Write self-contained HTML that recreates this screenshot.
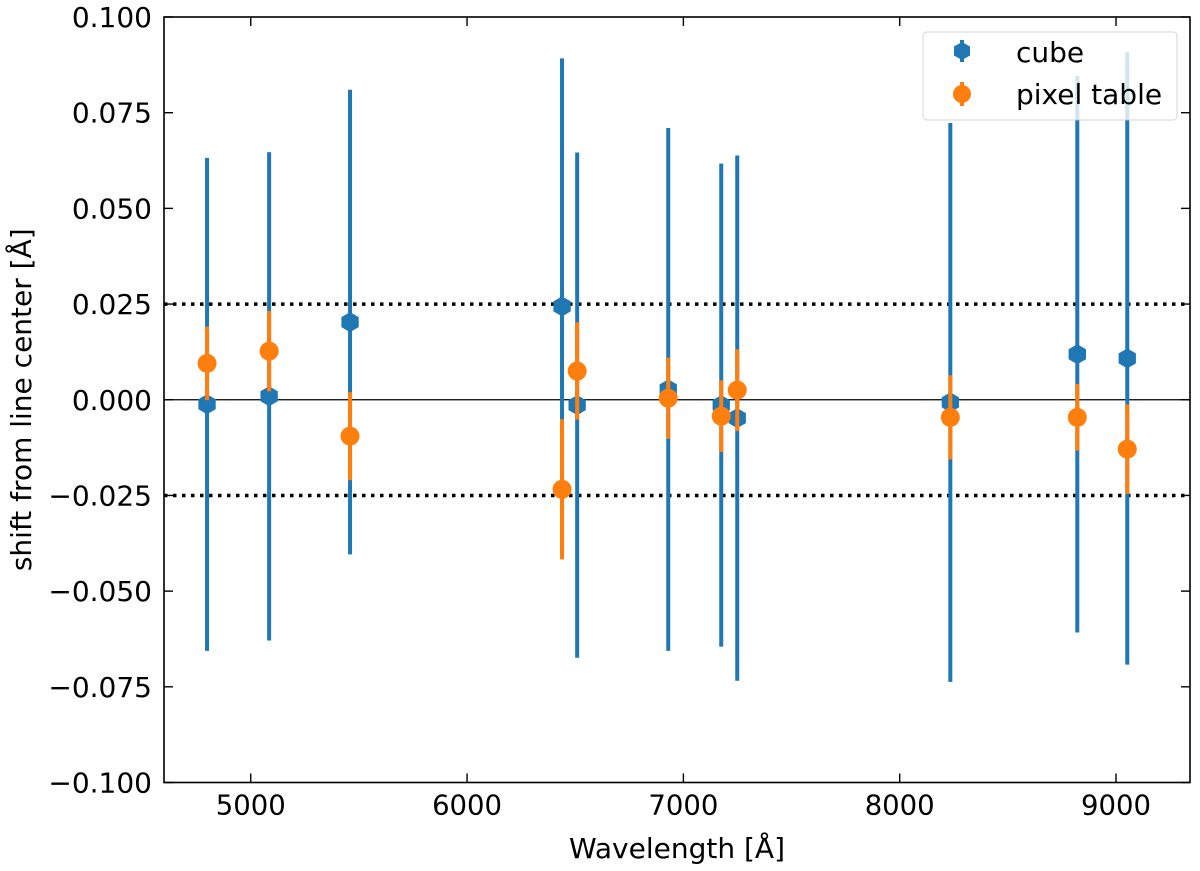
<!DOCTYPE html>
<html><head><meta charset="utf-8"><style>
body{margin:0;background:#fff;}
svg{display:block;font-family:"DejaVu Sans","Liberation Sans",sans-serif;}
</style></head><body>
<svg id="chart" width="1200" height="871" viewBox="0 0 1200 871" xmlns="http://www.w3.org/2000/svg">
<g id="grid"></g><g id="marks"></g><g id="axes"></g>
<g id="legend">
 <rect x="923" y="32" width="254" height="88" rx="4" fill="#fff" fill-opacity="0.8" stroke="#ccc" stroke-opacity="0.8"/>
 <g>
  <line x1="962" y1="40" x2="962" y2="62" stroke="#1f77b4" stroke-width="4"/>
  <polygon points="962,42 970,46.5 970,55.5 962,60 954,55.5 954,46.5" fill="#1f77b4"/>
  <text x="1016" y="62" font-size="28">cube</text>
 </g>
 <g>
  <line x1="962" y1="82" x2="962" y2="106" stroke="#ff7f0e" stroke-width="4"/>
  <circle cx="962" cy="94" r="9" fill="#ff7f0e"/>
  <text x="1016" y="104" font-size="28">pixel table</text>
 </g>
</g>
</svg>
<script>
const wavelengths=[4798,5085,5459,6439,6509,6930,7175,7249,8234,8821,9052];
const cubeShift=[-0.0012,0.0009,0.0203,0.0244,-0.0014,0.0027,-0.0014,-0.0048,-0.0007,0.0119,0.0108];
const cubeErr=[0.0644,0.0638,0.0607,0.0648,0.066,0.0683,0.0631,0.0686,0.073,0.0727,0.08];
const pixShift=[0.0095,0.0127,-0.0095,-0.0234,0.0075,0.0004,-0.0043,0.0025,-0.0046,-0.0046,-0.0129];
const pixErr=[0.0096,0.0105,0.0115,0.0183,0.0127,0.0106,0.0094,0.0107,0.011,0.0087,0.0117];
const xTicks=[5000,6000,7000,8000,9000];
const yTicks=[-0.1,-0.075,-0.05,-0.025,0,0.025,0.05,0.075,0.1];
const yTickLabels=["\u22120.100","\u22120.075","\u22120.050","\u22120.025","0.000","0.025","0.050","0.075","0.100"];

const L=164,R=1190,T=17,B=782.5;
const xmin=4599,xmax=9342,ymin=-0.1,ymax=0.1;
const X=v=>L+(v-xmin)/(xmax-xmin)*(R-L);
const Y=v=>B-(v-ymin)/(ymax-ymin)*(B-T);
const NS="http://www.w3.org/2000/svg";
function mk(tag,attrs,parent){const e=document.createElementNS(NS,tag);for(const k in attrs)e.setAttribute(k,attrs[k]);parent.appendChild(e);return e;}
const grid=document.getElementById('grid'),marks=document.getElementById('marks'),axes=document.getElementById('axes');

let z=mk('line',{x1:L,x2:R,y1:Y(0),y2:Y(0),stroke:'#000','stroke-width':1.2},grid);

[0.025,-0.025].forEach(v=>{const d=mk('line',{x1:L,x2:R,y1:Y(v),y2:Y(v),stroke:'#000','stroke-width':3.5,'stroke-dasharray':'3.5 5.5'},grid);
});

function hex(cx,cy,r){let p=[];for(let i=0;i<6;i++){const a=Math.PI/6+i*Math.PI/3;p.push((cx+r*Math.cos(a)).toFixed(1)+','+(cy+r*Math.sin(a)).toFixed(1));}return p.join(' ');}
wavelengths.forEach((w,i)=>{
 const g=mk('g',{},marks);
 
 mk('line',{x1:X(w),x2:X(w),y1:Y(cubeShift[i]+cubeErr[i]),y2:Y(cubeShift[i]-cubeErr[i]),stroke:'#1f77b4','stroke-width':4},g);
 mk('polygon',{points:hex(X(w),Y(cubeShift[i]),10),fill:'#1f77b4'},g);
});
wavelengths.forEach((w,i)=>{
 const g=mk('g',{},marks);
 
 mk('line',{x1:X(w),x2:X(w),y1:Y(pixShift[i]+pixErr[i]),y2:Y(pixShift[i]-pixErr[i]),stroke:'#ff7f0e','stroke-width':4},g);
 mk('circle',{cx:X(w),cy:Y(pixShift[i]),r:9.5,fill:'#ff7f0e'},g);
});

const fr=mk('rect',{x:L,y:T,width:R-L,height:B-T,fill:'none',stroke:'#000','stroke-width':1.6},axes);

xTicks.forEach(v=>{
 mk('line',{x1:X(v),x2:X(v),y1:B,y2:B-9,stroke:'#000','stroke-width':1.4},axes);
 mk('line',{x1:X(v),x2:X(v),y1:T,y2:T+9,stroke:'#000','stroke-width':1.4},axes);
 const t=mk('text',{x:X(v),y:B+32,'font-size':27.5,'text-anchor':'middle'},axes);t.textContent=v;
 
});
yTicks.forEach((v,i)=>{
 mk('line',{x1:L,x2:L+9,y1:Y(v),y2:Y(v),stroke:'#000','stroke-width':1.4},axes);
 mk('line',{x1:R,x2:R-9,y1:Y(v),y2:Y(v),stroke:'#000','stroke-width':1.4},axes);
 const t=mk('text',{x:L-12,y:Y(v)+10,'font-size':28,'text-anchor':'end'},axes);t.textContent=yTickLabels[i];
 
});
const xt=mk('text',{x:(L+R)/2,y:858,'font-size':28,'text-anchor':'middle'},axes);xt.textContent='Wavelength [Å]';

const yt=mk('text',{x:0,y:0,'font-size':28,'text-anchor':'middle',transform:`translate(31,${(T+B)/2}) rotate(-90)`},axes);yt.textContent='shift from line center [Å]';

</script>
</body></html>
